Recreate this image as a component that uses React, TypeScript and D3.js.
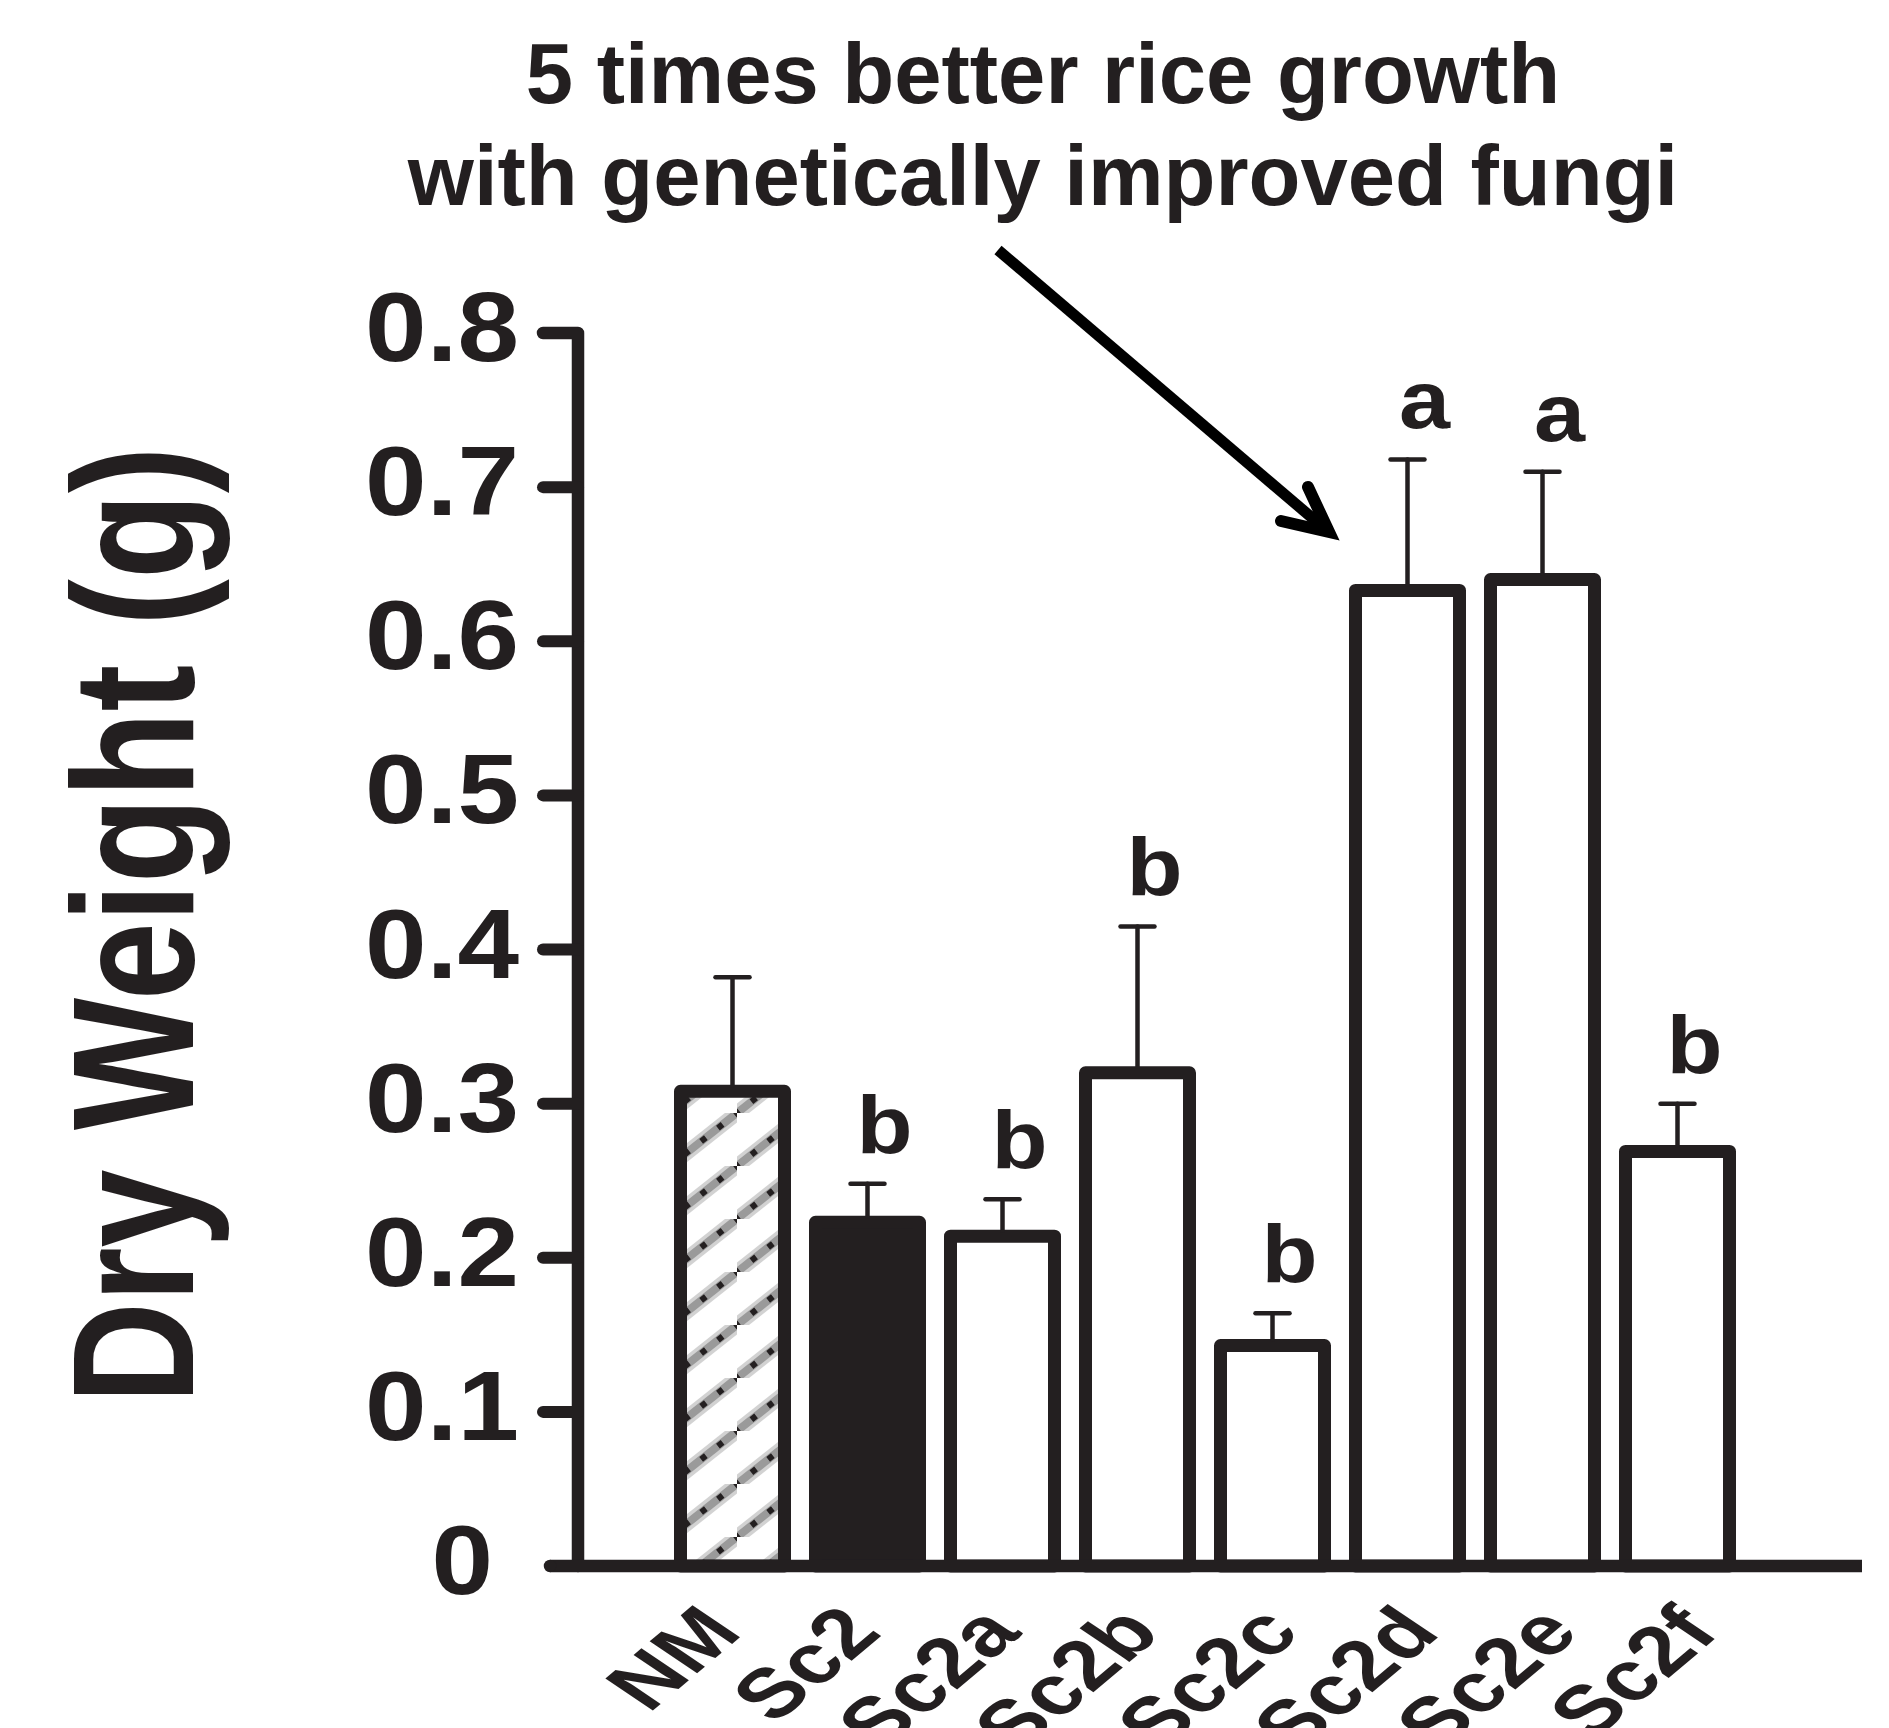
import React from 'react';
import * as d3 from 'd3';

const categories = ['NM', 'Sc2', 'Sc2a', 'Sc2b', 'Sc2c', 'Sc2d', 'Sc2e', 'Sc2f'];
const means = [0.308, 0.223, 0.214, 0.32, 0.143, 0.633, 0.64, 0.269];
const errors = [0.074, 0.025, 0.024, 0.095, 0.021, 0.085, 0.07, 0.031];
const letters = ['', 'b', 'b', 'b', 'b', 'a', 'a', 'b'];
const yTicks = [0, 0.1, 0.2, 0.3, 0.4, 0.5, 0.6, 0.7, 0.8];
const titleLines = ['5 times better rice growth', 'with genetically improved fungi'];
const yLabel = 'Dry Weight (g)';

const INK = '#231f20';
const FONT = '"Liberation Sans", Arial, Helvetica, sans-serif';

export default function App() {
  const W = 1889;
  const H = 1728;
  const x = d3.scaleBand<string>().domain(categories).range([665, 1745]).padding(0);
  const y = d3.scaleLinear().domain([0, 0.8]).range([1566, 333]);
  const xLab = d3.scalePoint<string>().domain(categories).range([744, 1721]);
  const barW = 104;
  const axisX = 578;
  const tickFmt = (d: number) => (d === 0 ? '0' : d3.format('.1f')(d));

  // pattern geometry
  const pw = 67;
  const ph = 53;
  const ext = 0.2;
  const diag = Math.hypot(pw, ph);
  const dotPeriod = diag / 4;
  const s0 = ext * diag - 3;
  const seg = { x1: -ext * pw, y1: ph + ext * ph, x2: pw + ext * pw, y2: -ext * ph };

  return (
    <svg
      width={W}
      height={H}
      viewBox={`0 0 ${W} ${H}`}
      style={{ position: 'absolute', left: 0, top: 0, background: '#fff' }}
    >
      <defs>
        <pattern id="nmPat" patternUnits="userSpaceOnUse" width={pw} height={ph} x={0} y={0}>
          <rect width={pw} height={ph} fill="#ffffff" />
          <line {...seg} stroke="#d2d2d2" strokeWidth={15} />
          <line {...seg} stroke="#9a9a9a" strokeWidth={8} />
          <line
            {...seg}
            stroke={INK}
            strokeWidth={6}
            strokeDasharray={`6 ${dotPeriod - 6}`}
            strokeDashoffset={-s0}
          />
        </pattern>
      </defs>
      <rect width={W} height={H} fill="#fff" />

      {/* Title */}
      {titleLines.map((t, i) => (
        <text
          key={t}
          x={1043}
          y={103 + i * 102}
          textAnchor="middle"
          fontFamily={FONT}
          fontWeight="bold"
          fontSize={85}
          fill={INK}
        >
          {t}
        </text>
      ))}

      {/* Arrow */}
      <line x1={998} y1={250} x2={1324} y2={528} stroke="#000" strokeWidth={11} />
      <path
        d="M1308,487 L1329,532 L1281,521"
        fill="none"
        stroke="#000"
        strokeWidth={12}
        strokeLinecap="round"
        strokeLinejoin="miter"
      />

      {/* Y axis label */}
      <text
        transform="translate(193,925) rotate(-90)"
        textAnchor="middle"
        fontFamily={FONT}
        fontWeight="bold"
        fontSize={173}
        textLength={957}
        lengthAdjust="spacingAndGlyphs"
        fill={INK}
      >
        {yLabel}
      </text>

      {/* Bars */}
      {categories.map((c, i) => {
        const cx = (x(c) as number) + x.bandwidth() / 2;
        const top = y(means[i]);
        const fill = i === 0 ? 'url(#nmPat)' : i === 1 ? INK : '#fff';
        return (
          <rect
            key={c}
            x={cx - barW / 2}
            y={top}
            width={barW}
            height={y(0) - top}
            fill={fill}
            stroke={INK}
            strokeWidth={13}
            strokeLinejoin="round"
          />
        );
      })}

      {/* Error bars */}
      {categories.map((c, i) => {
        const cx = (x(c) as number) + x.bandwidth() / 2;
        const top = y(means[i] + errors[i]);
        const base = y(means[i]) - 6;
        return (
          <g key={c} stroke={INK} strokeWidth={4.5} strokeLinecap="round">
            <line x1={cx} x2={cx} y1={base} y2={top} />
            <line x1={cx - 17} x2={cx + 17} y1={top} y2={top} />
          </g>
        );
      })}

      {/* Significance letters */}
      {categories.map((c, i) => {
        if (!letters[i]) return null;
        const cx = (x(c) as number) + x.bandwidth() / 2 + 17;
        const top = y(means[i] + errors[i]) - 31;
        return (
          <text
            key={c}
            transform={`translate(${cx},${top}) scale(1.12,1)`}
            textAnchor="middle"
            fontFamily={FONT}
            fontWeight="bold"
            fontSize={82}
            fill={INK}
          >
            {letters[i]}
          </text>
        );
      })}

      {/* Axes */}
      <path
        d={`M543,${y(0.8)} H${axisX} V${y(0)}`}
        fill="none"
        stroke={INK}
        strokeWidth={12.5}
        strokeLinecap="round"
        strokeLinejoin="round"
      />
      {yTicks
        .filter((t) => t > 0 && t < 0.8)
        .map((t) => (
          <line
            key={t}
            x1={543}
            x2={axisX}
            y1={y(t)}
            y2={y(t)}
            stroke={INK}
            strokeWidth={12}
            strokeLinecap="round"
          />
        ))}
      <line x1={550} x2={1862} y1={y(0)} y2={y(0)} stroke={INK} strokeWidth={12.5} strokeLinecap="butt" />
      <circle cx={550} cy={y(0)} r={6.25} fill={INK} />

      {/* Y tick labels */}
      {yTicks.map((t) => (
        <text
          key={t}
          transform={`translate(${t === 0 ? 493 : 519},${y(t) + 28}) scale(1.13,1)`}
          textAnchor="end"
          fontFamily={FONT}
          fontWeight="bold"
          fontSize={98}
          fill={INK}
        >
          {tickFmt(t)}
        </text>
      ))}

      {/* X labels */}
      {categories.map((c) => (
        <text
          key={c}
          transform={`translate(${xLab(c)},1634) rotate(-40) skewX(16)`}
          textAnchor="end"
          fontFamily={FONT}
          fontWeight="bold"
          fontSize={80}
          fill={INK}
        >
          {c}
        </text>
      ))}
    </svg>
  );
}
